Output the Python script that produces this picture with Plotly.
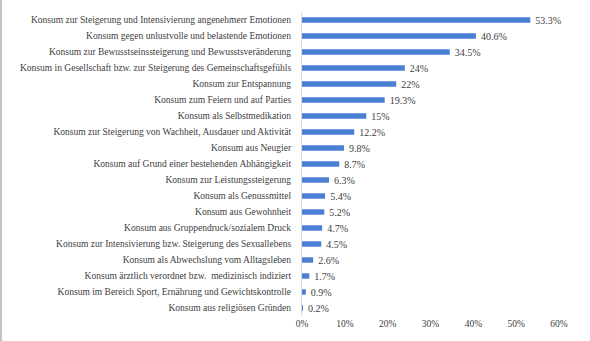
import plotly.graph_objects as go

# Motive für den Konsum, Anteil der Befragten in Prozent
categories = [
    "Konsum zur Steigerung und Intensivierung angenehmerr Emotionen",
    "Konsum gegen unlustvolle und belastende Emotionen",
    "Konsum zur Bewusstseinssteigerung und Bewusstsveränderung",
    "Konsum in Gesellschaft bzw. zur Steigerung des Gemeinschaftsgefühls",
    "Konsum zur Entspannung",
    "Konsum zum Feiern und auf Parties",
    "Konsum als Selbstmedikation",
    "Konsum zur Steigerung von Wachheit, Ausdauer und Aktivität",
    "Konsum aus Neugier",
    "Konsum auf Grund einer bestehenden Abhängigkeit",
    "Konsum zur Leistungssteigerung",
    "Konsum als Genussmittel",
    "Konsum aus Gewohnheit",
    "Konsum aus Gruppendruck/sozialem Druck",
    "Konsum zur Intensivierung bzw. Steigerung des Sexuallebens",
    "Konsum als Abwechslung vom Alltagsleben",
    "Konsum ärztlich verordnet bzw.  medizinisch indiziert",
    "Konsum im Bereich Sport, Ernährung und Gewichtskontrolle",
    "Konsum aus religiösen Gründen",
]
values = [53.3, 40.6, 34.5, 24, 22, 19.3, 15, 12.2, 9.8, 8.7, 6.3, 5.4, 5.2, 4.7, 4.5, 2.6, 1.7, 0.9, 0.2]
x_ticks = [0, 10, 20, 30, 40, 50, 60]
x_tick_labels = ["0%", "10%", "20%", "30%", "40%", "50%", "60%"]

FONT = "Liberation Serif"
TEXT = "#404040"

fig = go.Figure(
    go.Bar(
        x=values,
        y=categories,
        orientation="h",
        marker=dict(color="#4a7fd4", line=dict(width=0)),
        width=0.34,
        text=[f"  {v:g}%" for v in values],
        textposition="outside",
        constraintext="none",
        textfont=dict(family=FONT, size=10, color=TEXT),
        cliponaxis=False,
    )
)

L, R, T, B = 302, 31, 12, 25
W, H = 590, 341

fig.update_layout(
    width=W,
    height=H,
    margin=dict(l=L, r=R, t=T, b=B),
    paper_bgcolor="white",
    plot_bgcolor="white",
    showlegend=False,
    font=dict(family=FONT, size=9.5, color=TEXT),
    xaxis=dict(
        range=[0, 60],
        tickvals=x_ticks,
        ticktext=x_tick_labels,
        showgrid=False,
        zeroline=False,
        showline=False,
        ticks="",
        tickfont=dict(family=FONT, size=9.5, color=TEXT),
    ),
    yaxis=dict(
        autorange="reversed",
        showgrid=False,
        zeroline=False,
        showline=True,
        linecolor="#d9d9d9",
        linewidth=1,
        ticks="",
        ticklabelstandoff=8,
        tickfont=dict(family=FONT, size=9.5, color=TEXT),
    ),
    shapes=[
        # grey frame edge on the left side of the page
        dict(
            type="line",
            xref="paper",
            yref="paper",
            x0=(1 - L) / (W - L - R),
            x1=(1 - L) / (W - L - R),
            y0=-B / (H - T - B),
            y1=1 + T / (H - T - B),
            line=dict(color="#c4c4c4", width=2),
        )
    ],
)

fig.write_html("out.html")
